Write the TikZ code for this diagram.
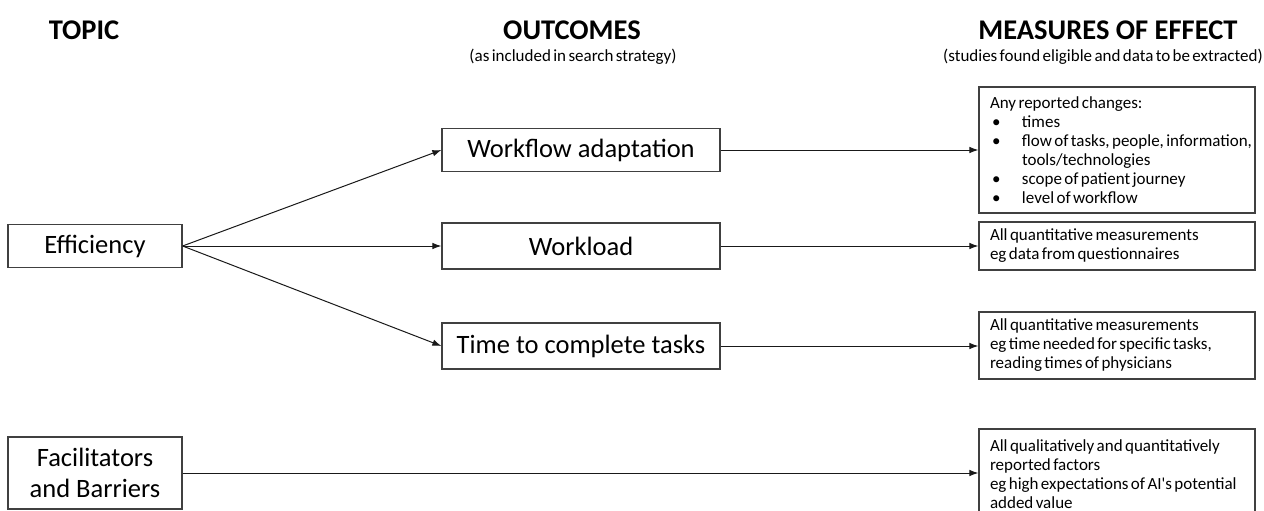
\documentclass[tikz,border=0pt]{standalone}
\usepackage{fontspec}
\setmainfont{Carlito}
\newfontfamily\tightf[WordSpace=0.62]{Carlito}
\usetikzlibrary{arrows.meta}
\begin{document}
\begin{tikzpicture}[x=1pt,y=-1pt,
  box/.style={draw=black!75, line width=1.2pt, inner sep=0pt, align=center, font=\fontsize{26.5}{31}\selectfont},
  rbox/.style={draw=black!75, line width=1.2pt, inner xsep=11pt, inner ysep=4pt, minimum width=276pt, text width=254pt, align=flush left, font=\tightf\fontsize{17}{19}\selectfont},
  head/.style={inner sep=0pt, font=\bfseries\fontsize{28.5}{34}\selectfont},
  subhead/.style={inner sep=0pt, font=\tightf\fontsize{17}{19}\selectfont},
  arr/.style={-{Latex[length=9pt,width=6.5pt]}, line width=1pt, black!90}
]
\useasboundingbox (0,0) rectangle (1264,511);
\fill[white] (0,0) rectangle (1264,511);

% headings
\node[head] (topic) at (84,30) {TOPIC};
\node[head] (outc) at (572,30) {OUTCOMES};
\node[subhead] (outs) at (573,57) {(as included in search strategy)};
\node[head] (meas) at (1108,30) {MEASURES OF EFFECT};
\node[subhead] (meass) at (1103,57) {(studies found eligible and data to be extracted)};

% left boxes
\node[box, minimum width=174pt, minimum height=43pt] (eff) at (95,246) {Efficiency};
\node[box, minimum width=174pt, minimum height=72pt] (fac) at (95,473) {Facilitators\\and Barriers};

% outcome boxes
\node[box, minimum width=278pt, minimum height=43pt] (wf) at (581,150) {Workflow adaptation};
\node[box, minimum width=278pt, minimum height=46pt] (wl) at (581,246) {Workload};
\node[box, minimum width=278pt, minimum height=46pt] (tc) at (581,346) {Time to complete tasks};

% measures boxes
\node[rbox, minimum height=126pt] (m1) at (1117,150) {Any reported changes:\\
\mbox{\hspace*{2pt}\makebox[30pt][l]{\textbullet}times}\\
\mbox{\hspace*{2pt}\makebox[30pt][l]{\textbullet}flow of tasks, people, information,}\\
\mbox{\hspace*{32pt}tools/technologies}\\
\mbox{\hspace*{2pt}\makebox[30pt][l]{\textbullet}scope of patient journey}\\
\mbox{\hspace*{2pt}\makebox[30pt][l]{\textbullet}level of workflow}};
\node[rbox, minimum height=48pt] (m2) at (1117,246) {All quantitative measurements\\eg data from questionnaires};
\node[rbox, minimum height=67pt] (m3) at (1117,345.5) {All quantitative measurements\\eg time needed for specific tasks,\\reading times of physicians};
\node[rbox, minimum height=90pt] (m4) at (1117,474) {All qualitatively and quantitatively\\reported factors\\eg high expectations of AI's potential\\added value};

% connectors
\draw[arr] (eff.east) -- (wf.west);
\draw[arr] (eff.east) -- (wl.west);
\draw[arr] (eff.east) -- (tc.west);
\draw[arr] (wf.east) -- (wf.east -| m1.west);
\draw[arr] (wl.east) -- (wl.east -| m2.west);
\draw[arr] (tc.east) -- (tc.east -| m3.west);
\draw[arr] (fac.east) -- (fac.east -| m4.west);
\end{tikzpicture}
\end{document}
